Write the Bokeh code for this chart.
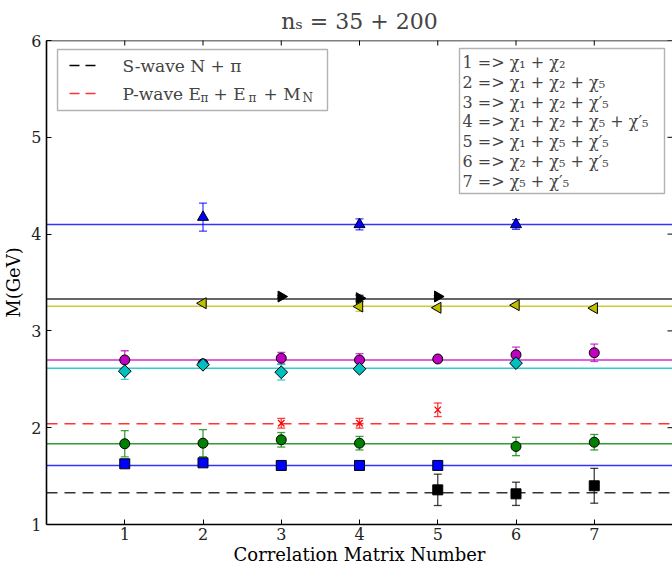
import numpy as np
from bokeh.plotting import figure
from bokeh.models import (Span, Whisker, TeeHead, ColumnDataSource,
                          FixedTicker, Label, BoxAnnotation)
from bokeh.embed import file_html
from bokeh.resources import INLINE

FONT = "DejaVu Serif"

# ---------------- data ----------------
title_text = "nₛ = 35 + 200"
x_label = "Correlation Matrix Number"
y_label = "M(GeV)"
x_ticks = [1, 2, 3, 4, 5, 6, 7]
y_ticks = [1, 2, 3, 4, 5, 6]

# blue up-triangles
tri_up_x = [2, 4, 6]
tri_up_y = [4.175, 4.10, 4.10]
tri_up_err = [0.145, 0.057, 0.05]
tri_up_fit = 4.10

# black right-triangles
tri_right_x = [3, 4, 5]
tri_right_y = [3.355, 3.338, 3.355]
tri_right_err = [0.01, 0.03, 0.01]
tri_right_fit = 3.33

# yellow left-triangles
tri_left_x = [2, 4, 5, 6, 7]
tri_left_y = [3.286, 3.252, 3.239, 3.266, 3.235]
tri_left_err = [0.01, 0.05, 0.02, 0.02, 0.02]
tri_left_fit = 3.255

# magenta circles
mag_x = [1, 2, 3, 4, 5, 6, 7]
mag_y = [2.70, 2.66, 2.718, 2.70, 2.71, 2.753, 2.774]
mag_err = [0.095, 0.03, 0.06, 0.065, 0.01, 0.08, 0.09]
mag_fit = 2.70

# cyan diamonds
cyan_x = [1, 2, 3, 4, 6]
cyan_y = [2.584, 2.65, 2.573, 2.608, 2.667]
cyan_err = [0.085, 0.02, 0.08, 0.03, 0.03]
cyan_fit = 2.615

# red crosses (P-wave)
red_x = [3, 4, 5]
red_y = [2.046, 2.046, 2.185]
red_err = [0.05, 0.05, 0.07]
red_fit = 2.04

# green circles
green_x = [1, 2, 3, 4, 6, 7]
green_y = [1.834, 1.84, 1.875, 1.84, 1.806, 1.85]
green_err = [0.135, 0.14, 0.075, 0.07, 0.095, 0.08]
green_fit = 1.834

# blue squares
sq_blue_x = [1, 2, 3, 4, 5]
sq_blue_y = [1.627, 1.637, 1.61, 1.61, 1.61]
sq_blue_err = [0.02, 0.02, 0.01, 0.01, 0.01]
sq_blue_fit = 1.61

# black squares (S-wave)
sq_black_x = [5, 6, 7]
sq_black_y = [1.358, 1.317, 1.40]
sq_black_err = [0.162, 0.12, 0.18]
sq_black_fit = 1.327

legend_left = ["S-wave N + π", "P-wave E", "π", " + E", "π", " + M", "N"]
legend_right = [
    "1 => χ₁ + χ₂",
    "2 => χ₁ + χ₂ + χ₅",
    "3 => χ₁ + χ₂ + χ′₅",
    "4 => χ₁ + χ₂ + χ₅ + χ′₅",
    "5 => χ₁ + χ₅ + χ′₅",
    "6 => χ₂ + χ₅ + χ′₅",
    "7 => χ₅ + χ′₅",
]

# ---------------- frame geometry (page pixels) ----------------
F_L, F_R, F_T, F_B = 46.0, 672.0, 40.0, 524.0
X0, X1, Y0, Y1 = 0.0, 8.0, 1.0, 6.0

p = figure(width=672, height=567, x_range=(X0, X1), y_range=(Y0, Y1),
           output_backend="svg", toolbar_location=None,
           min_border_left=46, min_border_right=0, min_border_top=40,
           min_border_bottom=43)
p.outline_line_color = None
p.xgrid.visible = False
p.ygrid.visible = False
p.background_fill_color = "white"

p.title.text = title_text
p.title.text_font = FONT
p.title.text_font_size = "22px"
p.title.text_font_style = "normal"
p.title.align = "center"
p.title.vertical_align = "middle"
p.title.standoff = 11

def style_axis(ax, ticks, label):
    ax.ticker = FixedTicker(ticks=ticks)
    ax.major_tick_in = 5
    ax.major_tick_out = 0
    ax.minor_tick_in = 0
    ax.minor_tick_out = 0
    ax.major_tick_line_color = "black"
    ax.major_tick_line_width = 1
    ax.axis_line_color = "black"
    ax.axis_line_width = 1.6
    ax.major_label_text_font = FONT
    ax.major_label_text_color = "#222222"
    ax.major_label_text_font_size = "16px"
    ax.axis_label = label
    ax.axis_label_text_font = FONT
    ax.axis_label_text_font_style = "normal"
    ax.axis_label_text_color = "black"
    ax.axis_label_text_font_size = "18px"

xa = p.below[0]
ya = p.left[0]
style_axis(xa, x_ticks, x_label)
xa.major_label_standoff = 3
xa.axis_label_standoff = 1
style_axis(ya, y_ticks, y_label)
ya.major_label_standoff = 5
ya.axis_label_standoff = 4

# top spine and inward ticks on the top / right edges
p.add_layout(Span(location=Y1, dimension="width", line_color="black", line_width=1.6))
p.scatter(x=x_ticks, y=[Y1] * len(x_ticks), marker="dash", angle=np.pi / 2, size=10,
          line_color="black", line_width=1)
p.scatter(x=[X1] * len(y_ticks), y=y_ticks, marker="dash", size=10,
          line_color="black", line_width=1)

# ---------------- series ----------------
series = [
    dict(x=tri_up_x, y=tri_up_y, e=tri_up_err, fit=tri_up_fit, marker="triangle",
         angle=0.0, color="#0000ff", size=11, dash="solid"),
    dict(x=tri_right_x, y=tri_right_y, e=tri_right_err, fit=tri_right_fit, marker="triangle",
         angle=-np.pi / 2, color="#000000", size=11, dash="solid"),
    dict(x=tri_left_x, y=tri_left_y, e=tri_left_err, fit=tri_left_fit, marker="triangle",
         angle=np.pi / 2, color="#bfbf00", size=11, dash="solid"),
    dict(x=mag_x, y=mag_y, e=mag_err, fit=mag_fit, marker="circle",
         angle=0.0, color="#bf00bf", size=10, dash="solid"),
    dict(x=cyan_x, y=cyan_y, e=cyan_err, fit=cyan_fit, marker="square",
         angle=np.pi / 4, color="#00bfbf", size=9, dash="solid"),
    dict(x=red_x, y=red_y, e=red_err, fit=red_fit, marker="x",
         angle=0.0, color="#ff0000", size=9, dash="11 7"),
    dict(x=green_x, y=green_y, e=green_err, fit=green_fit, marker="circle",
         angle=0.0, color="#008000", size=10, dash="solid"),
    dict(x=sq_blue_x, y=sq_blue_y, e=sq_blue_err, fit=sq_blue_fit, marker="square",
         angle=0.0, color="#0000ff", size=10, dash="solid"),
    dict(x=sq_black_x, y=sq_black_y, e=sq_black_err, fit=sq_black_fit, marker="square",
         angle=0.0, color="#000000", size=10, dash="11 7"),
]

for s in series:
    p.add_layout(Span(location=s["fit"], dimension="width", line_color=s["color"],
                      line_alpha=0.8, line_width=1.5, line_dash=s["dash"], level="underlay"))

for s in series:
    xs = np.array(s["x"], dtype=float)
    ys = np.array(s["y"], dtype=float)
    es = np.array(s["e"], dtype=float)
    src = ColumnDataSource(dict(x=xs, y=ys, lo=ys - es, hi=ys + es))
    p.add_layout(Whisker(source=src, base="x", upper="hi", lower="lo", dimension="height",
                         line_color=s["color"], line_alpha=0.75, line_width=1.3,
                         upper_head=TeeHead(size=8, line_color=s["color"], line_alpha=0.75, line_width=1.3),
                         lower_head=TeeHead(size=8, line_color=s["color"], line_alpha=0.75, line_width=1.3)))
    if s["marker"] == "x":
        p.scatter("x", "y", source=src, marker="x", size=s["size"], line_color=s["color"],
                  line_width=1.3)
    else:
        p.scatter("x", "y", source=src, marker=s["marker"], angle=s["angle"], size=s["size"],
                  fill_color=s["color"], line_color="black", line_width=1)

# ---------------- legends (positions in page pixels) ----------------
def dx(px):
    return X0 + (px - F_L) / (F_R - F_L) * (X1 - X0)
def dy(py):
    return Y0 + (F_B - py) / (F_B - F_T) * (Y1 - Y0)

p.add_layout(BoxAnnotation(left=dx(57), right=dx(327), top=dy(49), bottom=dy(110),
                           fill_color="white", fill_alpha=1.0, line_color="black",
                           line_width=1.4, level="underlay"))
p.segment(x0=[dx(69)], x1=[dx(95)], y0=[dy(65)], y1=[dy(65)], line_color="black",
          line_width=1.5, line_dash="10 6")
p.segment(x0=[dx(69)], x1=[dx(95)], y0=[dy(93)], y1=[dy(93)], line_color="#ff0000",
          line_alpha=0.8, line_width=1.5, line_dash="10 6")

tx = dx(122)
p.add_layout(Label(x=tx, y=dy(65), text=legend_left[0], text_font=FONT, text_font_size="17px",
                   text_baseline="middle", text_align="left"))
offsets = [0, 78, 91, 126, 141, 180]
big = [True, False, True, False, True, False]
for txt, off, b in zip(legend_left[1:], offsets, big):
    p.add_layout(Label(x=tx, y=dy(93), x_offset=off, y_offset=0 if b else -4, text=txt,
                       text_font=FONT, text_font_size="17px" if b else "12px",
                       text_baseline="middle", text_align="left"))

p.add_layout(BoxAnnotation(left=dx(459), right=dx(664), top=dy(48), bottom=dy(193),
                           fill_color="white", fill_alpha=1.0, line_color="black",
                           line_width=1.4, level="underlay"))
for i, txt in enumerate(legend_right):
    p.add_layout(Label(x=dx(462), y=dy(62 + i * 19.8), text=txt, text_font=FONT,
                       text_font_size="16px", text_baseline="middle", text_align="left"))

open("out.html", "w").write(file_html(p, INLINE))
